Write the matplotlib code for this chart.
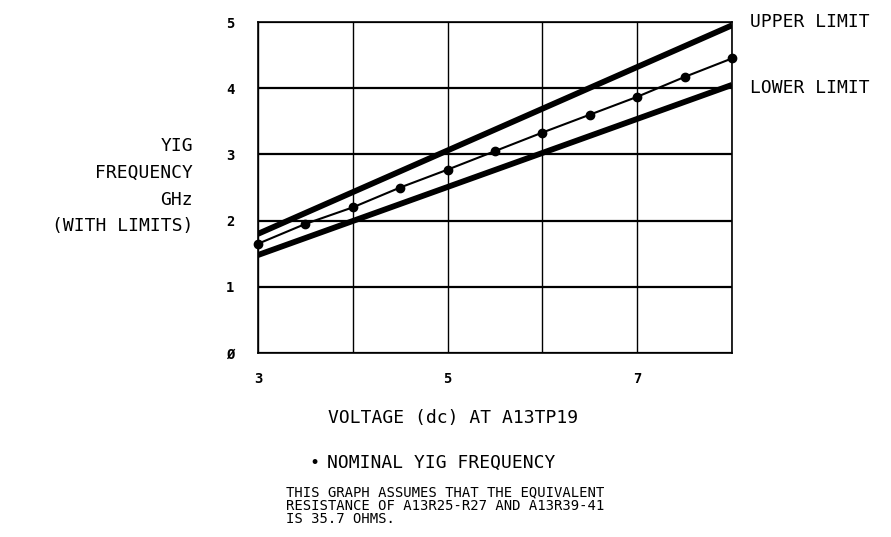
import matplotlib
matplotlib.use("Agg")
import matplotlib.pyplot as plt
import numpy as np

# Nominal YIG frequency vs. tuning voltage
voltage = [3.0, 3.5, 4.0, 4.5, 5.0, 5.5, 6.0, 6.5, 7.0, 7.5, 8.0]
nominal_ghz = [1.65, 1.95, 2.2, 2.5, 2.77, 3.05, 3.33, 3.6, 3.87, 4.17, 4.45]

# Limit lines (end points)
limit_v = [3.0, 8.0]
upper_ghz = [1.8, 4.95]
lower_ghz = [1.48, 4.05]

x_ticks = [3, 5, 7]
x_tick_labels = ["3", "5", "7"]
y_ticks = [0, 1, 2, 3, 4, 5]
y_tick_labels = ["Ø", "1", "2", "3", "4", "5"]

FONT = "DejaVu Sans Mono"
plt.rcParams["font.family"] = FONT

fig = plt.figure(figsize=(8.91, 5.37), dpi=100)
ax = fig.add_axes([258 / 891, 1 - 353 / 537, (732 - 258) / 891, (353 - 22) / 537])

ax.set_xlim(3, 8)
ax.set_ylim(0, 5)

# grid
for gx in range(3, 9):
    ax.axvline(gx, color="black", lw=1.0, zorder=1)
for gy in range(0, 6):
    ax.axhline(gy, color="black", lw=1.6, zorder=1)
for s in ax.spines.values():
    s.set_linewidth(1.2)

ax.plot(limit_v, upper_ghz, color="black", lw=4.2, solid_capstyle="butt", zorder=3)
ax.plot(limit_v, lower_ghz, color="black", lw=4.2, solid_capstyle="butt", zorder=3)
ax.plot(voltage, nominal_ghz, color="black", lw=1.5, marker="o", ms=6, zorder=4, clip_on=False)

ax.set_xticks(x_ticks)
ax.set_xticklabels(x_tick_labels)
ax.set_yticks(y_ticks)
ax.set_yticklabels(y_tick_labels)
ax.tick_params(length=0, labelsize=10, pad=0)
for lab in ax.get_xticklabels() + ax.get_yticklabels():
    lab.set_fontweight("bold")
ax.tick_params(axis="x", pad=14)
ax.tick_params(axis="y", pad=20)
for lab in ax.get_yticklabels():
    lab.set_horizontalalignment("center")

txt = dict(fontsize=13, color="black", family=FONT)

fig.text(750 / 891, 1 - 22 / 537, "UPPER LIMIT", ha="left", va="center", **txt)
fig.text(750 / 891, 1 - 88 / 537, "LOWER LIMIT", ha="left", va="center", **txt)

for label, ypix in [("YIG", 146), ("FREQUENCY", 173), ("GHz", 200), ("(WITH LIMITS)", 226)]:
    fig.text(193 / 891, 1 - ypix / 537, label, ha="right", va="center", **txt)

fig.text(453 / 891, 1 - 418 / 537, "VOLTAGE (dc) AT A13TP19", ha="center", va="center", **txt)

fig.text(314 / 891, 1 - 463 / 537, "•", ha="center", va="center", fontsize=12, family=FONT)
fig.text(327 / 891, 1 - 463 / 537, "NOMINAL YIG FREQUENCY", ha="left", va="center", **txt)

note = ["THIS GRAPH ASSUMES THAT THE EQUIVALENT",
        "RESISTANCE OF A13R25-R27 AND A13R39-41",
        "IS 35.7 OHMS."]
for i, line in enumerate(note):
    fig.text(286 / 891, 1 - (492 + 13.5 * i) / 537, line, ha="left", va="center",
             fontsize=10, family=FONT)

fig.savefig("out.png", dpi=100)
